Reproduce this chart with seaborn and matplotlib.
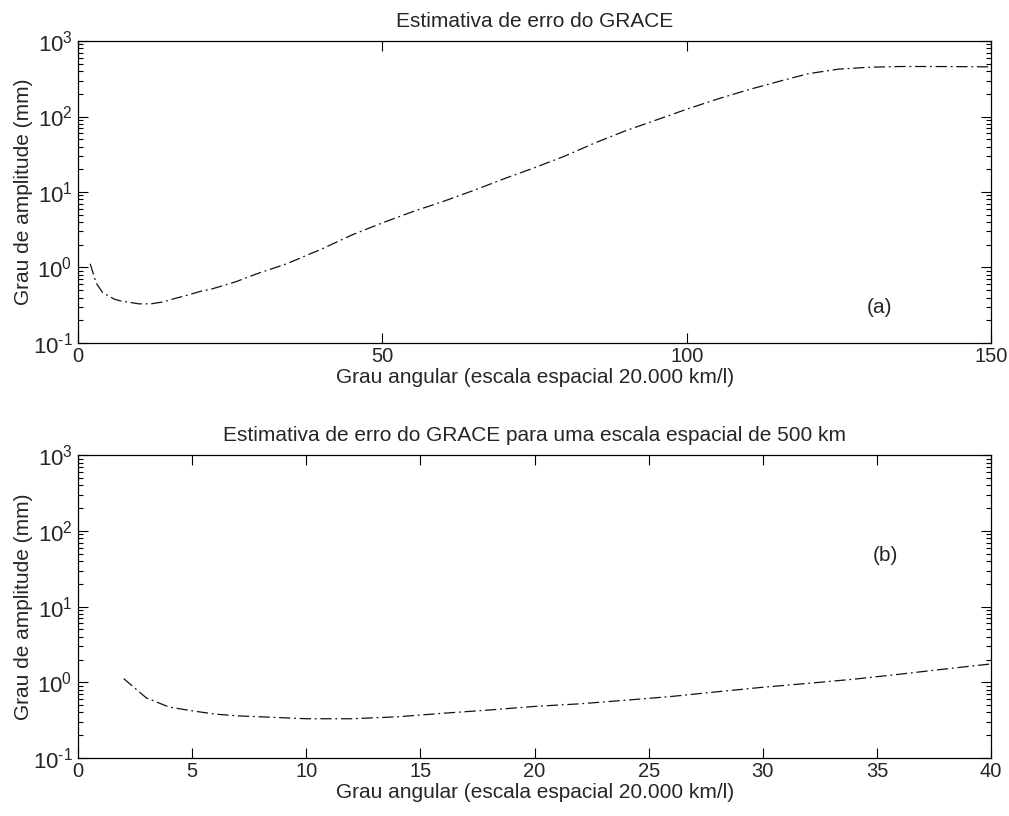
import numpy as np
import pandas as pd
import matplotlib
matplotlib.use('Agg')
import matplotlib.pyplot as plt
import matplotlib.ticker as mticker
import seaborn as sns

# Grau angular e estimativa de erro do GRACE
degree = [2, 3, 4, 5, 6, 7, 8, 10, 12, 14, 16, 18, 20, 22, 24, 26, 28, 30,
          32, 34, 36, 38, 40, 45, 50, 55, 60, 65, 70, 75, 80, 85, 90, 95,
          100, 105, 110, 115, 120, 125, 130, 135, 140, 145, 150]
error_mm = [1.12, 0.62, 0.47, 0.42, 0.38, 0.36, 0.35, 0.33, 0.33, 0.35, 0.39,
            0.43, 0.48, 0.52, 0.58, 0.65, 0.75, 0.86, 0.97, 1.1, 1.28, 1.5,
            1.75, 2.7, 3.9, 5.5, 7.5, 10.5, 15, 21, 30, 45, 65, 90, 125, 170,
            225, 290, 370, 425, 450, 460, 460, 458, 455]

titles = ['Estimativa de erro do GRACE',
          'Estimativa de erro do GRACE para uma escala espacial de 500 km']
panel_labels = ['(a)', '(b)']
x_limits = [(0, 150), (0, 40)]
x_ticks = [[0, 50, 100, 150], [0, 5, 10, 15, 20, 25, 30, 35, 40]]
label_pos = [(0.878, 0.116), (0.884, 0.67)]

df = pd.DataFrame({'degree': degree, 'error': error_mm})

sns.set_style('ticks')
plt.rcParams['font.family'] = ['Liberation Sans', 'DejaVu Sans']
plt.rcParams['mathtext.fontset'] = 'custom'
plt.rcParams['mathtext.rm'] = 'Liberation Sans'
plt.rcParams['mathtext.it'] = 'Liberation Sans'


def log_label(v, pos):
    e = int(round(np.log10(v)))
    return r'$10^{\text{%d}}$' % e


fig = plt.figure(figsize=(10.09, 8.16), dpi=100)
axes = [fig.add_axes([0.0773, 0.5797, 0.905, 0.370]),
        fig.add_axes([0.0773, 0.0711, 0.905, 0.371])]

for i, ax in enumerate(axes):
    sns.lineplot(data=df, x='degree', y='error', ax=ax, color='#111111',
                 linewidth=0.9, linestyle=(0, (9, 3, 1.5, 3)))
    ax.set_yscale('log')
    ax.set_ylim(0.1, 1000)
    ax.set_xlim(*x_limits[i])
    ax.set_xticks(x_ticks[i])
    ax.yaxis.set_major_locator(mticker.LogLocator(base=10, numticks=10))
    ax.yaxis.set_major_formatter(mticker.FuncFormatter(log_label))
    ax.yaxis.set_minor_locator(mticker.LogLocator(base=10, subs=np.arange(2, 10), numticks=50))
    ax.yaxis.set_minor_formatter(mticker.NullFormatter())
    ax.tick_params(which='both', direction='in', top=True, right=True,
                   width=0.8, color='black')
    ax.tick_params(axis='x', labelsize=14.5, pad=3)
    ax.tick_params(axis='y', labelsize=16, pad=4)
    ax.tick_params(which='major', length=7)
    ax.tick_params(which='minor', length=3.5)
    for s in ax.spines.values():
        s.set_linewidth(0.9)
        s.set_color('black')
    ax.set_title(titles[i], fontsize=15, pad=10)
    ax.set_xlabel('Grau angular (escala espacial 20.000 km/l)', fontsize=15, labelpad=1)
    ax.set_ylabel('Grau de amplitude (mm)', fontsize=15, labelpad=0)
    ax.text(label_pos[i][0], label_pos[i][1], panel_labels[i], transform=ax.transAxes,
            fontsize=15, ha='center', va='center')

fig.savefig('out.png', dpi=100)
